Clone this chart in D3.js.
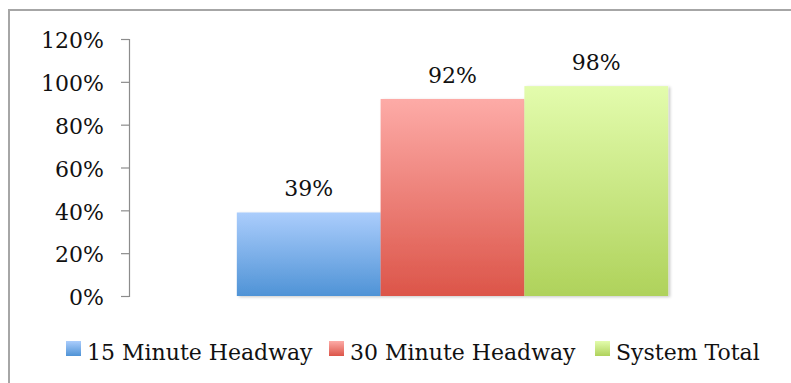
<!DOCTYPE html>
<html>
<head>
<meta charset="utf-8">
<script src="https://cdn.jsdelivr.net/npm/d3@7/dist/d3.min.js"></script>
<style>
  html, body { margin: 0; padding: 0; background: #fff; }
  svg { display: block; }
  text { font-family: "DejaVu Serif", "Liberation Serif", serif; fill: #111; }
</style>
</head>
<body>
<svg id="chart" width="791" height="383"></svg>
<script>
// Share of service coverage by headway group
const categories = ["Coverage"];
const seriesNames = ["15 Minute Headway", "30 Minute Headway", "System Total"];
const seriesValues = [0.39, 0.92, 0.98];
const yTicks = [0, 0.2, 0.4, 0.6, 0.8, 1.0, 1.2];

// gradient stops (top, bottom) for each series
const seriesColors = [
  ["#abcdfc", "#4f93d6"],
  ["#fdaba7", "#dc5549"],
  ["#e3fcad", "#afd25b"]
];

const svg = d3.select("#chart");
const W = 791, H = 383;
const plot = { left: 129, right: 776, top: 39, bottom: 296 };

const defs = svg.append("defs");
seriesColors.forEach((c, i) => {
  const g = defs.append("linearGradient")
    .attr("id", "grad" + i)
    .attr("x1", 0).attr("y1", 0).attr("x2", 0).attr("y2", 1);
  g.append("stop").attr("offset", "0%").attr("stop-color", c[0]);
  g.append("stop").attr("offset", "100%").attr("stop-color", c[1]);
});
const shadow = defs.append("filter").attr("id", "shadow")
  .attr("x", "-10%").attr("y", "-10%").attr("width", "130%").attr("height", "130%");
shadow.append("feDropShadow")
  .attr("dx", 2).attr("dy", 1).attr("stdDeviation", 1.5)
  .attr("flood-color", "#000").attr("flood-opacity", 0.22);

// outer chart frame
svg.append("rect")
  .attr("x", 9).attr("y", 10)
  .attr("width", W + 20).attr("height", H + 20)
  .attr("fill", "none")
  .attr("stroke", "#a6a6a6")
  .attr("stroke-width", 2);

const y = d3.scaleLinear().domain([0, 1.2]).range([plot.bottom, plot.top]);
const x0 = d3.scaleBand().domain(categories).range([plot.left, plot.right])
  .paddingInner(0).paddingOuter(0.25);
const x1 = d3.scaleBand().domain(seriesNames).range([0, x0.bandwidth()]).padding(0);

// y axis
const yAxis = d3.axisLeft(y)
  .tickValues(yTicks)
  .tickFormat(d3.format(".0%"))
  .tickSize(8)
  .tickPadding(17);
const ya = svg.append("g")
  .attr("transform", `translate(${plot.left},0)`)
  .call(yAxis);
ya.select(".domain").attr("stroke", "#8c8c8c").attr("stroke-width", 1.2);
ya.selectAll(".tick line").attr("stroke", "#8c8c8c").attr("stroke-width", 1.2);
ya.selectAll(".tick text")
  .attr("font-family", "DejaVu Serif, serif")
  .attr("font-size", 22)
  .attr("fill", "#111")
  .attr("dy", "0.4em");

// bars
const rows = seriesNames.map((s, i) => ({ name: s, value: seriesValues[i], idx: i }));
const grp = svg.append("g").attr("transform", `translate(${x0(categories[0])},0)`);
grp.selectAll("rect.bar")
  .data(rows)
  .join("rect")
  .attr("class", "bar")
  .attr("x", d => x1(d.name))
  .attr("y", d => y(d.value))
  .attr("width", x1.bandwidth())
  .attr("height", d => y(0) - y(d.value))
  .attr("fill", d => `url(#grad${d.idx})`)
  .attr("filter", "url(#shadow)");

// value labels
grp.selectAll("text.val")
  .data(rows)
  .join("text")
  .attr("class", "val")
  .attr("x", d => x1(d.name) + x1.bandwidth() / 2)
  .attr("y", d => y(d.value) - 16)
  .attr("text-anchor", "middle")
  .attr("font-size", 22)
  .text(d => d3.format(".0%")(d.value));

// legend
const legendX = [66, 329, 595];
const legend = svg.append("g");
rows.forEach((d, i) => {
  const g = legend.append("g").attr("transform", `translate(${legendX[i]},341)`);
  g.append("rect")
    .attr("width", 15).attr("height", 15)
    .attr("fill", `url(#grad${i})`);
  g.append("text")
    .attr("x", 21).attr("y", 19)
    .attr("font-size", 22)
    .text(d.name);
});
</script>
</body>
</html>
